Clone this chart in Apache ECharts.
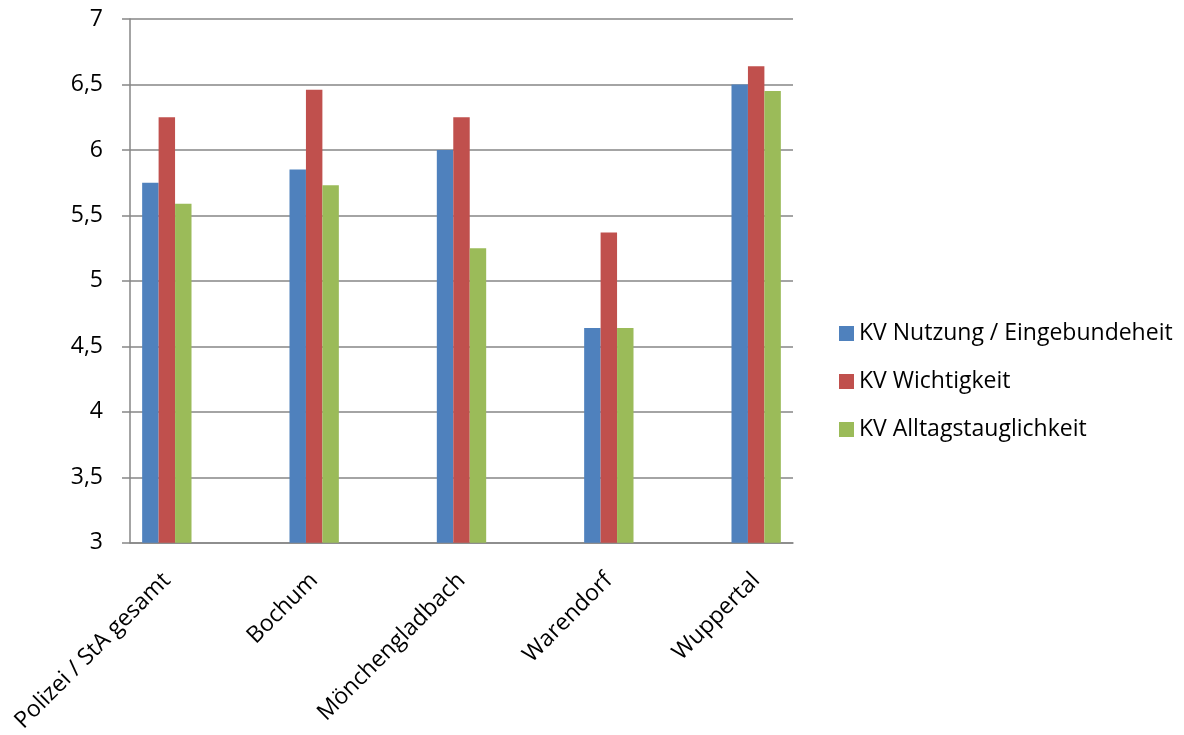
<!DOCTYPE html>
<html>
<head>
<meta charset="utf-8">
<script src="https://cdn.jsdelivr.net/npm/echarts@6/dist/echarts.min.js"></script>
<style>
  html, body { margin: 0; padding: 0; background: #fff; }
  #main { width: 1184px; height: 735px; }
</style>
</head>
<body>
<div id="main"></div>
<script>
var categories = ['Polizei / StA gesamt', 'Bochum', 'Mönchengladbach', 'Warendorf', 'Wuppertal'];
var nutzung = [5.75, 5.85, 6.0, 4.64, 6.5];
var wichtigkeit = [6.25, 6.46, 6.25, 5.37, 6.64];
var alltag = [5.59, 5.73, 5.25, 4.64, 6.45];
var seriesNames = ['KV Nutzung / Eingebundeheit', 'KV Wichtigkeit', 'KV Alltagstauglichkeit'];
var colors = ['#4F81BD', '#C0504D', '#9BBB59'];

// zwischen den Orten liegt jeweils eine leere Kategorie
function pad(arr, empty) {
    var out = [];
    for (var i = 0; i < arr.length; i++) {
        out.push(arr[i]);
        if (i < arr.length - 1) out.push(empty);
    }
    return out;
}

var font = 'Open Sans';
var myChart = echarts.init(document.getElementById('main'));

var option = {
    animation: false,
    color: colors,
    grid: { left: 130, right: 391, top: 19, bottom: 191 },
    legend: {
        orient: 'vertical',
        left: 834,
        top: 317,
        icon: 'rect',
        itemWidth: 15,
        itemHeight: 15,
        itemGap: 25,
        textStyle: { fontFamily: font, fontSize: 23, color: '#000' },
        data: seriesNames
    },
    xAxis: {
        type: 'category',
        data: pad(categories, ''),
        axisLine: { lineStyle: { color: '#868686', width: 1.5 } },
        axisTick: { interval: 0, length: 7, lineStyle: { color: '#868686', width: 1.5 } },
        axisLabel: {
            interval: 0,
            rotate: 45,
            margin: 34,
            fontFamily: font,
            fontSize: 23,
            color: '#000'
        }
    },
    yAxis: {
        type: 'value',
        min: 3,
        max: 7,
        interval: 0.5,
        axisLine: { show: true, lineStyle: { color: '#868686', width: 1.5 } },
        axisTick: { show: true, inside: false, length: 8, lineStyle: { color: '#868686', width: 1.5 } },
        splitLine: { lineStyle: { color: '#868686', width: 1.5 } },
        axisLabel: {
            margin: 27,
            fontFamily: font,
            fontSize: 23,
            color: '#000',
            formatter: function (v) { return String(v).replace('.', ','); }
        }
    },
    series: [
        { name: seriesNames[0], type: 'bar', data: pad(nutzung, null), barGap: 0, barCategoryGap: '33%' },
        { name: seriesNames[1], type: 'bar', data: pad(wichtigkeit, null), barGap: 0, barCategoryGap: '33%' },
        { name: seriesNames[2], type: 'bar', data: pad(alltag, null), barGap: 0, barCategoryGap: '33%' }
    ]
};

myChart.setOption(option);
</script>
</body>
</html>
